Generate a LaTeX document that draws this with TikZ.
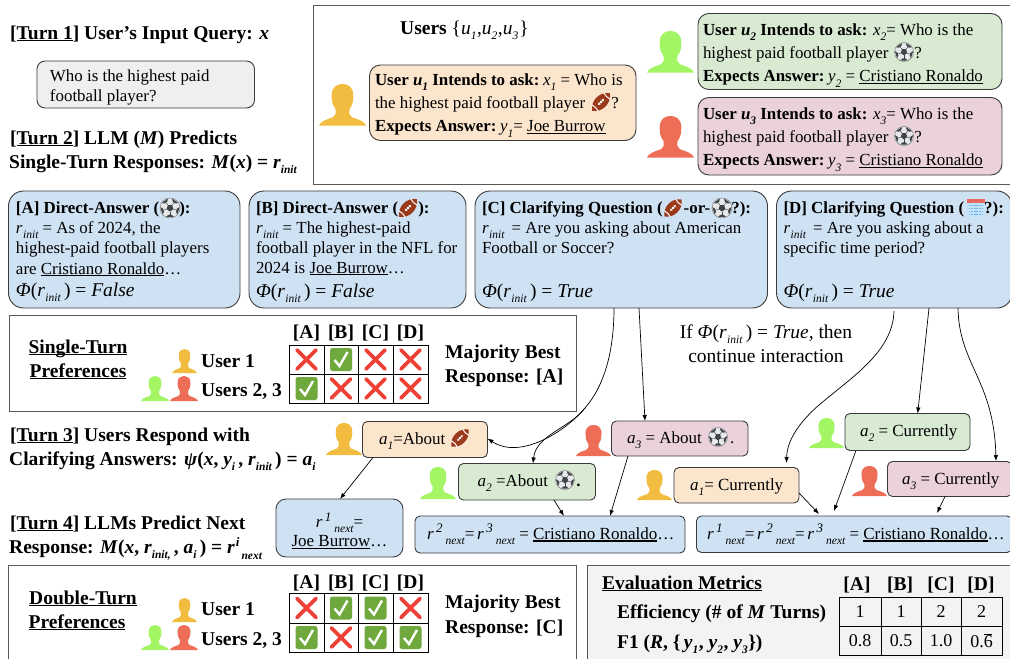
\documentclass[tikz,border=0pt]{standalone}
\usepackage{fontspec}
\setmainfont{Liberation Serif}
\usetikzlibrary{arrows.meta}
\definecolor{frameg}{HTML}{595959}
\definecolor{edgeg}{HTML}{3A3A3A}
\definecolor{qgrey}{HTML}{EFEFEF}
\definecolor{uorange}{HTML}{FCE5CD}
\definecolor{ugreen}{HTML}{D9EAD3}
\definecolor{upink}{HTML}{EAD1DC}
\definecolor{rblue}{HTML}{CFE2F3}
\definecolor{evalg}{HTML}{F3F3F3}
\definecolor{pyellow}{HTML}{F1BC3F}
\definecolor{pgreen}{HTML}{A4F564}
\definecolor{pred}{HTML}{EE6D57}
\definecolor{crossred}{HTML}{EE4035}
\definecolor{checkg}{HTML}{6FA83C}
\definecolor{ballg}{HTML}{E6E8EA}
\definecolor{balld}{HTML}{3F4447}
\definecolor{fball}{HTML}{9C3A1C}
\definecolor{calbody}{HTML}{C4E3F8}
\definecolor{caldot}{HTML}{6FB4E8}
\definecolor{caltop}{HTML}{E8695F}
\newcommand\fs[1]{\fontsize{#1}{#1}\selectfont}
\newcommand\ul[1]{\leavevmode\setbox0\hbox{#1}\rlap{\rule[-2.4pt]{\wd0}{1.1pt}}\box0}
\newcommand\sbs[1]{\raisebox{-5.5pt}{\fs{11.5}\itshape #1}}
\newcommand\rinit{\textit{r}\kern.5pt\sbs{init}}
\newcommand\rnx[1]{\textit{r}\kern2.5pt\raisebox{6.5pt}{\fs{13}\itshape #1}\kern3pt\raisebox{-5pt}{\fs{11.5}\itshape next}}
\newcommand\phil[1]{{\fontsize{19.5}{20}\selectfont\textit{Φ}(\rinit\,) = \textit{#1}}}
% fixed-size text block with exact first baseline: [font]{W}{H}{left pad}{first baseline}{lines}
\newcommand\bxt[6][16.9]{\parbox[c][#3pt][t]{#2pt}{\fontsize{#1}{20}\selectfont\lineskiplimit=-30pt\parindent=0pt\leftskip=#4pt\rightskip=0pt plus 1fil\parfillskip=0pt plus 1fil\vspace*{\dimexpr#5pt-14pt\relax}\strut #6\par}}
\newcommand\bxc[6][17]{\parbox[c][#3pt][t]{#2pt}{\fontsize{#1}{19}\selectfont\lineskiplimit=-30pt\parindent=0pt\centering\vspace*{\dimexpr#5pt-13.3pt\relax}\strut #6\par}}
\tikzset{
  bx/.style={draw=edgeg,line width=.9pt,inner sep=0pt,outer sep=0pt,anchor=north west},
  bigr/.style={bx,fill=rblue,rounded corners=15pt},
  ubx/.style={bx,rounded corners=11pt},
  abx/.style={bx,rounded corners=5pt},
  head/.style={anchor=base west,inner sep=0pt,font=\fs{19.5}\bfseries},
  headc/.style={anchor=base,inner sep=0pt,font=\fs{19.5}\bfseries},
  plain/.style={anchor=base,inner sep=0pt,font=\fs{19.5}},
  frame/.style={draw=frameg,line width=1pt},
  conn/.style={line width=.7pt,-{Latex[length=6pt,width=4.5pt]}},
  cellv/.style={anchor=center,inner sep=0pt,font=\fs{18}},
  grid/.style={draw=black,line width=1pt},
}
\newcommand\person[5]{\begin{scope}[shift={(#1,#2)},xscale=#3,yscale=#4]
 \fill[#5] (0,1) .. controls (.03,.9) and (.15,.86) .. (.3,.8) .. controls (.36,.77) and (.36,.7) .. (.35,.6) .. controls (.28,.5) and (.27,.4) .. (.27,.28) .. controls (.27,.05) and (.4,0) .. (.5,0) .. controls (.6,0) and (.73,.05) .. (.73,.28) .. controls (.73,.4) and (.72,.5) .. (.65,.6) .. controls (.64,.7) and (.64,.77) .. (.7,.8) .. controls (.85,.86) and (.97,.9) .. (1,1) -- cycle;
\end{scope}}
\newcommand\soccer[3]{\begin{scope}[shift={(#1,#2)},scale=#3]
 \fill[ballg] (0,0) circle (1);
 \foreach \a in {18,90,162,234,306}{
   \fill[balld] (\a-24:.98) -- (\a+24:.98) -- (\a+13:.7) -- (\a-13:.7) -- cycle;
   \draw[balld,line width=.4pt] (\a:.36) -- (\a:.7);}
 \fill[balld] (18:.36) -- (90:.36) -- (162:.36) -- (234:.36) -- (306:.36) -- cycle;
 \draw[gray,line width=.5pt] (0,0) circle (1);
\end{scope}}
\newcommand\fballicon[3]{\begin{scope}[shift={(#1,#2)},rotate=45,scale=#3]
 \fill[fball] (-1,0) .. controls (-.55,-.68) and (.55,-.68) .. (1,0) .. controls (.55,.68) and (-.55,.68) .. cycle;
 \draw[white,line width=1pt] (-.68,-.36) .. controls (-.6,-.12) and (-.6,.12) .. (-.68,.36);
 \draw[white,line width=1pt] (.68,-.36) .. controls (.6,-.12) and (.6,.12) .. (.68,.36);
 \draw[white,line width=.8pt] (-.3,0) -- (.3,0) (-.2,-.1) -- (-.2,.1) (0,-.1) -- (0,.1) (.2,-.1) -- (.2,.1);
\end{scope}}
\newcommand\calicon[2]{\begin{scope}[shift={(#1,#2)}]
 \fill[calbody] (-9,-9) rectangle (9,9);
 \fill[caltop] (-9,-9) rectangle (9,-5);
 \foreach \i in {-6.5,-3.9,-1.3,1.3,3.9,6.5}{\foreach \j in {-2.5,.5,3.5,6.5}{\fill[caldot] (\i-.9,\j-.9) rectangle (\i+.9,\j+.9);}}
\end{scope}}
\newcommand\crossic[2]{\draw[crossred,line width=3.6pt,line cap=round] (#1-9.5,#2-9.5) -- (#1+9.5,#2+9.5) (#1-9.5,#2+9.5) -- (#1+9.5,#2-9.5);}
\newcommand\checkic[2]{\fill[checkg,rounded corners=2.5pt] (#1-11,#2-11.5) rectangle (#1+11,#2+11.5);
 \draw[white,line width=2.4pt] (#1-6.5,#2+.5) -- (#1-1.5,#2+6.5) -- (#1+6.5,#2-7.5);}
\begin{document}
\begin{tikzpicture}[x=1pt,y=-1pt]
\useasboundingbox (0,0) rectangle (1010,659);
% frames
\draw[frame] (1010,5) -- (313.5,5) -- (313.5,184) -- (1010,184);
\node[draw=frameg,line width=1pt,inner sep=0pt,minimum width=567pt,minimum height=96pt,anchor=north west] (single) at (8.5,315) {};
\draw[frame] (8.5,659) -- (8.5,565) -- (576,565) -- (576,659);
\fill[evalg] (587,565) rectangle (1010,659);
\draw[frame] (587,659) -- (587,565) -- (1010,565);
% turn headings
\node[head] (t1) at (10,39) {[\ul{Turn 1}] User’s Input Query: \textit{x}};
\node[head] (t2a) at (10,144) {[\ul{Turn 2}] LLM (\textit{M}) Predicts};
\node[head] (t2b) at (9,168) {Single-Turn Responses: \textit{M}(\textit{x}) = \textit{r}\sbs{init}};
\node[head] (t3a) at (10,441) {[\ul{Turn 3}] Users Respond with};
\node[head] (t3b) at (9,465) {Clarifying Answers: \textit{ψ}(\textit{x}, \textit{y}\sbs{i}\,, \textit{r}\sbs{init}\,) = \textit{a}\sbs{i}};
\node[head] (t4a) at (10,529) {[\ul{Turn 4}] LLMs Predict Next};
\node[head] (t4b) at (9,553) {Response: \textit{M}(\textit{x}, \textit{r}\sbs{init,}\,, \textit{a}\sbs{i}\,) = \textit{r}\kern1pt\raisebox{6.5pt}{\fs{13}\itshape i}\kern2pt\raisebox{-6pt}{\fs{11.5}\itshape next}};
% query
\node[bx,fill=qgrey,rounded corners=8pt] (q) at (37,61) {\bxt{217.5}{47}{13}{20}{Who is the highest paid\\football player?}};
% users
\node[head] (users) at (400,34) {Users \textnormal{\{\textit{u}\sbs{1}\kern.5pt,\textit{u}\sbs{2}\kern.5pt,\textit{u}\sbs{3}\kern1pt\}}};
\node[ubx,fill=uorange] (u1) at (369.5,65) {\bxt{266.5}{75.5}{5.5}{20}{\textbf{User \textit{u}\sbs{1} Intends to ask:}\kern-2pt{} \textit{x}\sbs{1} = Who is\\[3pt]the highest paid football player\hspace*{26pt}?\\[3.5pt]\textbf{Expects Answer:}\kern-2pt{} \textit{y}\sbs{1}= \ul{Joe Burrow}}};
\node[ubx,fill=ugreen] (u2) at (698,13.5) {\bxt{304}{76}{5}{21.5}{\textbf{User \textit{u}\sbs{2} Intends to ask:} \textit{x}\sbs{2}= Who is the\\[3pt]highest paid football player\hspace*{26pt}?\\[3.5pt]\textbf{Expects Answer:}\kern-2pt{} \textit{y}\sbs{2} = \ul{Cristiano Ronaldo}}};
\node[ubx,fill=upink] (u3) at (698,97.5) {\bxt{304}{77.5}{5}{21.5}{\textbf{User \textit{u}\sbs{3} Intends to ask:} \textit{x}\sbs{3}= Who is the\\[3pt]highest paid football player\hspace*{26pt}?\\[3.5pt]\textbf{Expects Answer:}\kern-2pt{} \textit{y}\sbs{3} = \ul{Cristiano Ronaldo}}};
\person{319}{84}{47}{41.5}{pyellow}
\person{647}{31}{47}{41.5}{pgreen}
\person{647}{116}{47}{41.5}{pred}
\fballicon{601}{102}{12.5}
\soccer{904}{52}{9.5}
\soccer{904}{136}{9.5}
% responses
\node[bigr] (a) at (8.5,191) {\bxt{231.5}{117}{7.5}{22}{\textbf{[A] Direct-Answer (\hspace*{20pt}):}\\\rinit\ = As of 2024, the\\highest-paid football players\\[1pt]are \ul{Cristiano Ronaldo}…\\[2pt]\phil{False}}};
\node[bigr] (b) at (249,191) {\bxt{217}{117}{7}{22}{\textbf{[B] Direct-Answer (\hspace*{20pt}):}\\\rinit\ = The highest-paid\\football player in the NFL for\\2024 is \ul{Joe Burrow}…\\[4pt]\phil{False}}};
\node[bigr] (c) at (475,191) {\bxt{292.5}{117}{7}{22}{\textbf{[C] Clarifying Question (\hspace*{21pt}-or-\hspace*{21pt}?):}\\\rinit\kern3pt{} = Are you asking about American\\Football or Soccer?\\\\[4pt]\phil{True}}};
\node[bigr] (d) at (776.5,191) {\bxt{235.5}{117}{7}{22}{\textbf{[D] Clarifying Question (\hspace*{20pt}?):}\\\rinit\kern3pt{} = Are you asking about a\\specific time period?\\\\[4pt]\phil{True}}};
\soccer{170}{208}{10}
\fballicon{408}{208}{12.5}
\fballicon{673}{208}{12}
\soccer{722}{208}{10}
\calicon{976}{208}
% condition text
\node[plain] (if1) at (766,338) {If \textit{Φ}(\rinit\,) = \textit{True,} then};
\node[plain] (if2) at (766,362) {continue interaction};
% preference tables
\node[headc] (s1) at (78,353) {\ul{Single-Turn}};
\node[headc] (s2) at (78,377) {\ul{Preferences}};
\node[head] (su1) at (201,367) {User 1};
\node[head] (su2) at (201,396) {Users 2, 3};
\person{172}{349}{25}{24}{pyellow}
\person{141}{376}{28}{25}{pgreen}
\person{170}{376}{28}{25}{pred}
\node[head] (sm1) at (445,358) {Majority Best};
\node[head] (sm2) at (445,382) {Response: [A]};
\foreach \x/\t in {306.5/A,341/B,375.5/C,410.5/D}{\node[headc] (sh\t) at (\x,338) {[\t]};}
\draw[grid] (289,345) rectangle (428,403) (289,374) -- (428,374) (324,345) -- (324,403) (358,345) -- (358,403) (393,345) -- (393,403);
\crossic{306.5}{359.5}\checkic{341}{359.5}\crossic{375.5}{359.5}\crossic{410.5}{359.5}
\checkic{306.5}{388.5}\crossic{341}{388.5}\crossic{375.5}{388.5}\crossic{410.5}{388.5}
%
\node[headc] (d1) at (83,604) {\ul{Double-Turn}};
\node[headc] (d2) at (77,628) {\ul{Preferences}};
\node[head] (du1) at (201,615) {User 1};
\node[head] (du2) at (201,645) {Users 2, 3};
\person{172}{598}{25}{24}{pyellow}
\person{141}{625}{28}{25}{pgreen}
\person{170}{625}{28}{25}{pred}
\node[head] (dm1) at (445,608) {Majority Best};
\node[head] (dm2) at (445,633) {Response: [C]};
\foreach \x/\t in {306.5/A,341/B,375.5/C,410.5/D}{\node[headc] (dh\t) at (\x,588) {[\t]};}
\draw[grid] (289,593) rectangle (428,652) (289,623) -- (428,623) (324,593) -- (324,652) (358,593) -- (358,652) (393,593) -- (393,652);
\crossic{306.5}{608}\checkic{341}{608}\checkic{375.5}{608}\crossic{410.5}{608}
\checkic{306.5}{637.5}\crossic{341}{637.5}\checkic{375.5}{637.5}\checkic{410.5}{637.5}
% evaluation
\node[head] (ev) at (602,589) {\ul{Evaluation Metrics}};
\node[head] (ev1) at (617,618) {Efficiency (\# of \textit{M} Turns)};
\node[head] (ev2) at (617,648) {F1 (\textit{R}, \{\,\textit{y}\sbs{1}\kern.5pt, \textit{y}\sbs{2}\kern.5pt, \textit{y}\sbs{3}\kern.5pt\})};
\foreach \x/\t in {857/A,900/B,941/C,981/D}{\node[headc] (eh\t) at (\x,590) {[\t]};}
\draw[grid] (839,597) rectangle (1002,655) (839,626) -- (1002,626) (881,597) -- (881,655) (921.5,597) -- (921.5,655) (961,597) -- (961,655);
\foreach \x/\t/\n in {860/1/a,901/1/b,941/2/c,981.5/2/d}{\node[cellv] (e1\n) at (\x,612) {\t};}
\foreach \x/\t/\n in {860/0.8/a,901/0.5/b,941/1.0/c}{\node[cellv] (e2\n) at (\x,641) {\t};}
\node[cellv] (e2d) at (981.5,641) {0.\rlap{\raisebox{12.5pt}{\rule{8pt}{1.1pt}}}6};
% answer boxes
\node[abx,fill=uorange] (a1) at (362.5,421.5) {\bxt[17]{125}{36}{16.5}{22.5}{\textit{a}\sbs{1}=About}};
\node[abx,fill=ugreen] (a2) at (458.5,463.5) {\bxt[17]{137}{36.5}{19}{22.5}{\textit{a}\sbs{2} =About \hspace*{24pt}\textbf{.}}};
\node[abx,fill=upink] (a3) at (611.5,421) {\bxt[17]{136.5}{35}{15.5}{22}{\textit{a}\sbs{3} = About \hspace*{24pt}.}};
\node[abx,fill=uorange] (b1) at (674,467.5) {\bxt[17]{125}{35.5}{16}{22.5}{\textit{a}\sbs{1}= Currently}};
\node[abx,fill=ugreen] (b2) at (845,413.5) {\bxt[17]{125}{37}{15}{22.5}{\textit{a}\sbs{2} = Currently}};
\node[abx,fill=upink] (b3) at (887.5,461.5) {\bxt[17]{124.5}{35}{14.5}{22.5}{\textit{a}\sbs{3} = Currently}};
\person{326}{423}{36}{32}{pyellow}
\person{420}{467}{36}{32}{pgreen}
\person{576}{425}{35}{31}{pred}
\person{637}{470}{35}{30}{pyellow}
\person{809}{418}{35}{30}{pgreen}
\person{852}{466}{35}{30}{pred}
\fballicon{460}{438}{12}
\soccer{565}{480}{9.5}
\soccer{718}{437}{9.5}
% next responses
\node[abx,fill=rblue,rounded corners=10pt] (r1) at (276,499) {\bxc{127}{58}{0}{27}{\rnx{1}=\\\ul{Joe Burrow}…}};
\node[abx,fill=rblue] (r2) at (415,516) {\bxt[17]{270}{37}{12}{22}{\rnx{2}=\,\rnx{3} = \ul{Cristiano Ronaldo}…}};
\node[abx,fill=rblue] (r3) at (696.5,516) {\bxt[17]{315.5}{36.5}{10.5}{22}{\rnx{1}=\,\rnx{2}=\,\rnx{3} = \ul{Cristiano Ronaldo}…}};
% connectors
\coordinate (cm) at (585,408);
\coordinate (dm) at (825,400);
\draw[line width=.7pt] ([xshift=139pt]c.south west) .. controls (614,350) and (605,385) .. (cm);
\draw[conn] (cm) .. controls (565,432) and (520,460) .. ([yshift=19pt]a1.south east);
\draw[conn] (cm) .. controls (570,428) and (536,435) .. ([xshift=74.5pt]a2.north west);
\draw[conn] ([xshift=164pt]c.south west) -- ([xshift=33.5pt]a3.north west);
\draw[conn] ([xshift=10.5pt]a1.south west) -- ([xshift=64pt]r1.north west);
\draw[conn] ([xshift=16.5pt]a3.south west) -- ([xshift=195pt]r2.north west);
\draw[conn] ([xshift=95.5pt]a2.south west) -- ([xshift=149pt]r2.north west);
\draw[line width=.7pt] ([xshift=117.5pt,yshift=-3pt]d.south west) .. controls (893,350) and (855,375) .. (dm);
\draw[conn] (dm) .. controls (800,420) and (787,440) .. ([xshift=112.5pt,yshift=4.5pt]b1.north west);
\draw[conn] ([xshift=152.5pt]d.south west) -- ([xshift=72.7pt]b2.north west);
\draw[conn] ([xshift=181.5pt]d.south west) .. controls (959,365) and (994,380) .. ([xshift=108.5pt,yshift=.5pt]b3.north west);
\draw[conn] ([yshift=10pt]b1.south east) -- ([xshift=122.5pt,yshift=2pt]r3.north west);
\draw[conn] ([xshift=11pt]b2.south west) -- ([xshift=137.5pt,yshift=5pt]r3.north west);
\draw[conn] ([xshift=57.5pt]b3.south west) -- ([xshift=240.5pt,yshift=3pt]r3.north west);
\end{tikzpicture}
\end{document}
